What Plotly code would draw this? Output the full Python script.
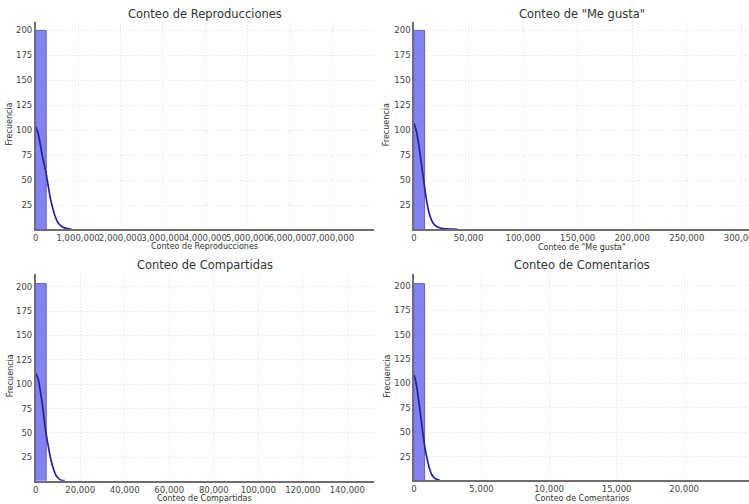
import plotly.graph_objects as go

W, H = 749, 504

# ---------------- data ----------------
titles = ["Conteo de Reproducciones", 'Conteo de "Me gusta"',
          "Conteo de Compartidas", "Conteo de Comentarios"]

# histogram bin widths (value units) and counts of visible bins
bin_width_repro = 260000
bin_width_likes = 9800
bin_width_shares = 4800
bin_width_comments = 810

counts_repro = [200]
counts_likes = [200]
counts_shares = [203]
counts_comments = [202]

# KDE curves (scaled to counts)
kde_x_repro = [0, 50e3, 100e3, 150e3, 200e3, 250e3, 300e3, 350e3, 400e3, 450e3,
               500e3, 550e3, 600e3, 650e3, 700e3, 750e3, 800e3, 850e3]
kde_y_repro = [103.5, 98, 88, 76, 66, 56, 43, 31, 22.5, 15,
               9.7, 6.3, 4.3, 3.0, 2.2, 1.6, 1.2, 1.0]

kde_x_likes = [0, 2e3, 4e3, 6e3, 8e3, 10e3, 12e3, 14e3, 16e3, 18e3, 20e3, 22e3,
               25e3, 30e3, 35e3, 40e3]
kde_y_likes = [107, 100, 88, 73, 57, 41, 27, 16.5, 10.5, 6.5, 4.3, 3.0,
               2.0, 1.4, 1.1, 1.0]

kde_x_shares = [0, 1e3, 2e3, 3e3, 4e3, 5e3, 6e3, 7e3, 8e3, 9e3, 10e3, 11e3, 12e3, 13e3]
kde_y_shares = [111, 106, 94, 79, 60, 45, 32, 21, 13, 7, 3.8, 2.0, 1.2, 1.0]

kde_x_comments = [0, 100, 200, 300, 400, 500, 600, 700, 800, 900, 1000, 1100,
                  1200, 1300, 1400, 1500, 1600, 1700, 1800, 1900]
kde_y_comments = [108.6, 104, 96.6, 87, 77, 66, 55, 44.5, 35, 27.5, 21, 15,
                  10.5, 7, 5, 3.5, 2.3, 1.7, 1.3, 1.0]

x_ranges = [[0, 7.98e6], [0, 307000], [0, 152000], [0, 24800]]
y_ranges = [[1, 208.5], [1, 208.5], [1, 213], [1, 212]]
x_dticks = [1e6, 50000, 20000, 5000]
x_titles = ["Conteo de Reproducciones", 'Conteo de "Me gusta"',
            "Conteo de Compartidas", "Conteo de Comentarios"]
y_title = "Frecuencia"

panels = [
    (bin_width_repro, counts_repro, kde_x_repro, kde_y_repro),
    (bin_width_likes, counts_likes, kde_x_likes, kde_y_likes),
    (bin_width_shares, counts_shares, kde_x_shares, kde_y_shares),
    (bin_width_comments, counts_comments, kde_x_comments, kde_y_comments),
]

# ---------------- layout geometry (pixels) ----------------
x_px = [(35.7, 374), (414, 749), (35.7, 374), (414, 749)]
y_px = [(21.8, 229.3), (21.8, 229.3), (274, 480.7), (274, 480.1)]
title_y_px = [14, 14, 265, 265]
xtitle_y_px = [246.5, 247, 498.3, 498]
ytitle_x_px = [10, 386.7, 10, 386.7]

FONT = "DejaVu Sans"
BAR_FILL = "rgba(95,95,240,0.78)"
BAR_EDGE = "rgba(60,60,200,0.9)"
LINE_COL = "#23239c"
AX_COL = "#6e6e6e"
GRID_COL = "#e2e2e2"
TICK_COL = "#444444"

fig = go.Figure()
annotations = []
for i, (bw, counts, kx, ky) in enumerate(panels):
    ax = "" if i == 0 else str(i + 1)
    centers = [bw * (k + 0.5) for k in range(len(counts))]
    fig.add_trace(go.Bar(
        x=centers, y=counts, width=bw,
        marker=dict(color=BAR_FILL, line=dict(color=BAR_EDGE, width=0.8)),
        xaxis="x" + ax, yaxis="y" + ax, showlegend=False, hoverinfo="skip"))
    fig.add_trace(go.Scatter(
        x=kx, y=ky, mode="lines", line=dict(color=LINE_COL, width=1.7, shape="spline"),
        xaxis="x" + ax, yaxis="y" + ax, showlegend=False, cliponaxis=True))

    xd = [x_px[i][0] / W, x_px[i][1] / W]
    yd = [1 - y_px[i][1] / H, 1 - y_px[i][0] / H]
    fig.layout["xaxis" + ax] = dict(
        domain=xd, range=x_ranges[i], anchor="y" + ax, dtick=x_dticks[i], tick0=0,
        tickformat=",d", tickangle=0, automargin=False, ticklabeloverflow="allow",
        showline=True, linecolor=AX_COL, linewidth=1.5,
        showgrid=True, gridcolor=GRID_COL, griddash="1px,2px", gridwidth=1,
        zeroline=False, ticks="", tickfont=dict(family=FONT, size=8.5, color=TICK_COL),
        fixedrange=True)
    fig.layout["yaxis" + ax] = dict(
        domain=yd, range=y_ranges[i], anchor="x" + ax, dtick=25, tick0=0,
        automargin=False,
        showline=True, linecolor=AX_COL, linewidth=1.5,
        showgrid=True, gridcolor=GRID_COL, griddash="1px,2px", gridwidth=1,
        zeroline=False, ticks="", tickfont=dict(family=FONT, size=8.5, color=TICK_COL),
        fixedrange=True)

    cx = (x_px[i][0] + x_px[i][1]) / 2 / W
    annotations.append(dict(text=titles[i], x=cx, y=1 - title_y_px[i] / H,
                            xref="paper", yref="paper", showarrow=False,
                            xanchor="center", yanchor="middle",
                            font=dict(family=FONT, size=11.5, color="#333333")))
    annotations.append(dict(text=x_titles[i], x=cx, y=1 - xtitle_y_px[i] / H,
                            xref="paper", yref="paper", showarrow=False,
                            xanchor="center", yanchor="middle",
                            font=dict(family=FONT, size=8, color="#333333")))
    cy = (y_px[i][0] + y_px[i][1]) / 2
    annotations.append(dict(text=y_title, x=ytitle_x_px[i] / W, y=1 - (cy - 1) / H,
                            xref="paper", yref="paper", showarrow=False, textangle=-90,
                            xanchor="center", yanchor="middle",
                            font=dict(family=FONT, size=8, color="#333333")))

fig.update_layout(
    width=W, height=H, margin=dict(l=0, r=0, t=0, b=0, autoexpand=False),
    paper_bgcolor="white", plot_bgcolor="white",
    bargap=0, annotations=annotations, font=dict(family=FONT))

fig.write_html(
    "out.html",
    config={"displayModeBar": False},
    post_script="document.body.style.margin='0';document.body.style.padding='0';"
                "document.body.style.overflow='hidden';"
                "document.documentElement.style.overflow='hidden';",
)
